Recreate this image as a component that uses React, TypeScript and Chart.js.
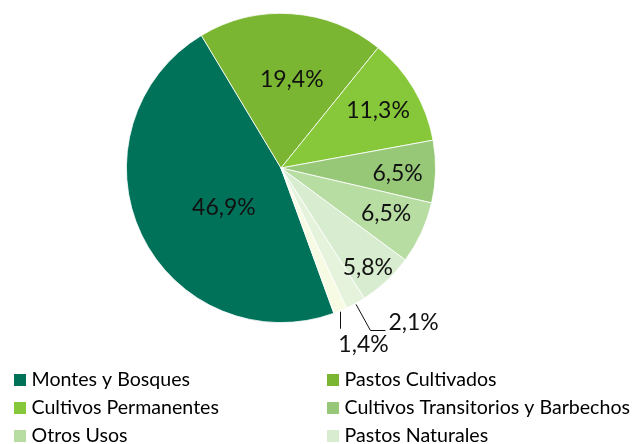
import React, { useEffect, useRef } from "react";
import { Chart, registerables } from "chart.js";

Chart.register(...registerables);

const categories = [
  "Montes y Bosques",
  "Pastos Cultivados",
  "Cultivos Permanentes",
  "Cultivos Transitorios y Barbechos",
  "Otros Usos",
  "Pastos Naturales",
  "Páramos",
  "Descanso",
];

const shares = [46.9, 19.4, 11.3, 6.5, 6.5, 5.8, 2.1, 1.4];

const sliceColors = [
  "#00725A",
  "#7AB632",
  "#86C83A",
  "#97C878",
  "#B7DDA3",
  "#D8ECCF",
  "#E6F3DC",
  "#F7FBE4",
];

// label placement style: radial fraction and angle tweak (deg); mode "in" / "elbow" / "drop"
const labelStyle = [
  { mode: "in", f: 0.45, da: -9.4 },
  { mode: "in", f: 0.575, da: 3 },
  { mode: "in", f: 0.73, da: 0 },
  { mode: "in", f: 0.755, da: 1.3 },
  { mode: "in", f: 0.74, da: -1.5 },
  { mode: "in", f: 0.855, da: 2 },
  { mode: "elbow", f: 1.2, da: 0 },
  { mode: "drop", f: 1, da: 0 },
];

const fmt = (v: number) => v.toFixed(1).replace(".", ",") + "%";

const LABEL_FONT = "400 23px Lato, 'Open Sans', sans-serif";
const LEGEND_FONT = "19.6px Lato, 'Liberation Sans', sans-serif";

const labelPlugin = {
  id: "sliceLabels",
  afterDatasetsDraw(chart: any) {
    const ctx = chart.ctx;
    const meta = chart.getDatasetMeta(0);
    const values = chart.data.datasets[0].data as number[];
    ctx.save();
    ctx.font = LABEL_FONT;
    ctx.fillStyle = "#111";
    ctx.strokeStyle = "#111";
    ctx.lineWidth = 1;
    meta.data.forEach((arc: any, i: number) => {
      const st = labelStyle[i];
      const { x, y, startAngle, endAngle, outerRadius } = arc.getProps(
        ["x", "y", "startAngle", "endAngle", "outerRadius"],
        true
      );
      const mid = (startAngle + endAngle) / 2 + (st.da * Math.PI) / 180;
      const text = fmt(values[i]);
      if (st.mode === "in") {
        ctx.textAlign = "center";
        ctx.textBaseline = "middle";
        ctx.fillText(
          text,
          x + Math.cos(mid) * outerRadius * st.f,
          y + Math.sin(mid) * outerRadius * st.f
        );
      } else if (st.mode === "elbow") {
        const sx = x + Math.cos(mid) * (outerRadius + 1);
        const sy = y + Math.sin(mid) * (outerRadius + 1);
        const ex = x + Math.cos(mid) * outerRadius * st.f;
        const ey = Math.round(y + Math.sin(mid) * outerRadius * st.f) - 0.5;
        ctx.beginPath();
        ctx.moveTo(sx, sy);
        ctx.lineTo(ex, ey);
        ctx.lineTo(ex + 15, ey);
        ctx.stroke();
        ctx.textAlign = "left";
        ctx.textBaseline = "middle";
        ctx.fillText(text, ex + 18, ey - 8);
      } else {
        const sx = Math.round(x + Math.cos(mid) * (outerRadius + 1)) - 0.5;
        const sy = y + Math.sin(mid) * (outerRadius + 1);
        ctx.beginPath();
        ctx.moveTo(sx, sy);
        ctx.lineTo(sx, sy + 17);
        ctx.stroke();
        ctx.textAlign = "center";
        ctx.textBaseline = "middle";
        ctx.fillText(text, sx + 23, sy + 33);
      }
    });
    ctx.restore();
  },
};

const legendPlugin = {
  id: "gridLegend",
  afterDraw(chart: any) {
    const ctx = chart.ctx;
    const colX = [14, 327];
    const rowY0 = 379.5;
    const rowH = 28;
    ctx.save();
    ctx.font = LEGEND_FONT;
    ctx.textAlign = "left";
    ctx.textBaseline = "middle";
    categories.forEach((name, i) => {
      const cx = colX[i % 2];
      const cy = rowY0 + Math.floor(i / 2) * rowH;
      ctx.fillStyle = sliceColors[i];
      ctx.fillRect(cx, Math.round(cy - 6), 12, 12);
      ctx.fillStyle = "#000";
      ctx.fillText(name, cx + 17.5, cy + 0.5);
    });
    ctx.restore();
  },
};

export default function App() {
  const ref = useRef<HTMLCanvasElement | null>(null);
  useEffect(() => {
    document.body.style.margin = "0";
    const canvas = ref.current!;
    const chart = new Chart(canvas, {
      type: "pie",
      data: {
        labels: categories,
        datasets: [
          {
            data: shares,
            backgroundColor: sliceColors,
            borderColor: "#ffffff",
            borderWidth: 0.8,
          },
        ],
      },
      options: {
        responsive: false,
        animation: false,
        devicePixelRatio: 1,
        rotation: 160,
        layout: { padding: { left: 0, right: 72, top: 13, bottom: 157 } },
        plugins: {
          legend: { display: false },
          tooltip: { enabled: false },
        },
      },
      plugins: [labelPlugin, legendPlugin],
    });
    return () => chart.destroy();
  }, []);
  return (
    <div style={{ width: 634, height: 444, overflow: "hidden" }}>
      <canvas ref={ref} width={634} height={480} style={{ display: "block" }} />
    </div>
  );
}
